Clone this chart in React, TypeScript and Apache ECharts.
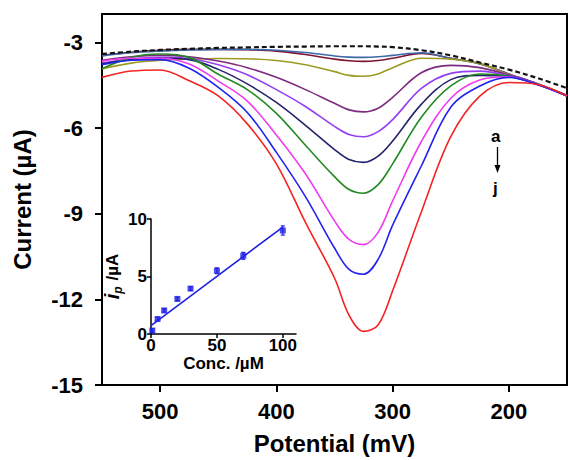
import React, { useEffect, useRef } from 'react';
import * as echarts from 'echarts';

// ---- Data ----
const potentials = [550, 525, 500, 475, 450, 425, 400, 375, 350, 337.5, 325, 312.5, 300, 275, 250, 225, 200, 175, 150];

const blank = [-3.40, -3.32, -3.26, -3.22, -3.19, -3.17, -3.15, -3.14, -3.13, -3.13, -3.13, -3.14, -3.16, -3.27, -3.45, -3.70, -3.95, -4.25, -4.60];
const curveA = [-3.45, -3.34, -3.27, -3.24, -3.24, -3.25, -3.30, -3.42, -3.58, -3.64, -3.66, -3.63, -3.55, -3.38, -3.55, -3.74, -4.10, -4.45, -4.85];
const curveB = [-3.47, -3.36, -3.30, -3.26, -3.24, -3.24, -3.27, -3.35, -3.47, -3.51, -3.52, -3.50, -3.45, -3.36, -3.56, -3.75, -4.11, -4.46, -4.86];
const curveC = [-3.92, -3.72, -3.62, -3.58, -3.56, -3.57, -3.63, -3.78, -4.02, -4.15, -4.18, -4.10, -3.88, -3.55, -3.58, -3.73, -4.13, -4.46, -4.86];
const curveD = [-3.62, -3.50, -3.45, -3.50, -3.65, -3.88, -4.22, -4.65, -5.13, -5.36, -5.43, -5.30, -4.92, -4.05, -3.80, -3.88, -4.14, -4.46, -4.86];
const curveE = [-3.72, -3.58, -3.52, -3.56, -3.78, -4.13, -4.65, -5.24, -5.94, -6.22, -6.30, -6.12, -5.70, -4.60, -4.08, -4.00, -4.16, -4.46, -4.86];
const curveF = [-3.75, -3.60, -3.55, -3.60, -3.94, -4.45, -5.10, -5.90, -6.75, -7.10, -7.20, -6.98, -6.45, -5.15, -4.30, -4.15, -4.18, -4.47, -4.87];
const curveG = [-3.92, -3.52, -3.40, -3.52, -4.11, -4.65, -5.48, -6.60, -7.70, -8.15, -8.28, -7.98, -7.25, -5.60, -4.52, -4.10, -4.18, -4.47, -4.87];
const curveH = [-3.65, -3.55, -3.55, -3.75, -4.35, -5.05, -6.24, -7.60, -9.25, -9.90, -10.08, -9.65, -8.55, -6.45, -4.95, -4.31, -4.20, -4.48, -4.87];
const curveI = [-3.78, -3.62, -3.60, -3.90, -4.57, -5.45, -6.85, -8.40, -10.20, -10.95, -11.12, -10.60, -9.40, -7.30, -5.27, -4.52, -4.22, -4.48, -4.87];
const curveJ = [-4.22, -4.00, -3.96, -4.34, -4.87, -5.85, -7.25, -9.30, -11.25, -12.55, -13.12, -12.90, -11.70, -8.90, -6.30, -4.88, -4.40, -4.47, -4.87];

const curveNames = ['a', 'b', 'c', 'd', 'e', 'f', 'g', 'h', 'i', 'j'];
const curves = [curveA, curveB, curveC, curveD, curveE, curveF, curveG, curveH, curveI, curveJ];
const curveColors = ['#7d1533', '#3d6aa8', '#9c9a22', '#7e2a7e', '#9440f0', '#23236e', '#238a23', '#f03cf0', '#2323ee', '#f52323'];

const xTicks = [500, 400, 300, 200];
const yTicks = [-15, -12, -9, -6, -3];

// inset: calibration plot
const concentration = [1, 5, 10, 20, 30, 50, 70, 100];
const peakCurrent = [0.3, 1.3, 2.05, 3.05, 3.95, 5.5, 6.8, 9.0];
const peakError = [0.15, 0.15, 0.15, 0.15, 0.15, 0.25, 0.3, 0.4];
const fitX = [0, 100];
const fitY = [0.72, 9.3];
const insetXTicks = [0, 50, 100];
const insetYTicks = [0, 5, 10];

const FONT = '"Liberation Sans", Arial, sans-serif';

export default function App() {
  const ref = useRef<HTMLDivElement>(null);

  useEffect(() => {
    document.body.style.margin = '0';
    if (!ref.current) return;
    const chart = echarts.init(ref.current, undefined, { renderer: 'svg' });

    const lineSeries: any[] = curves.map((c, k) => ({
      name: curveNames[k],
      type: 'line',
      xAxisIndex: 0,
      yAxisIndex: 0,
      data: potentials.map((p, i) => [p, c[i]]),
      showSymbol: false,
      smooth: 0.35,
      lineStyle: { color: curveColors[k], width: 1.6 },
      itemStyle: { color: curveColors[k] },
      z: 2 + k * 0.01,
    }));

    lineSeries.push({
      name: 'blank',
      type: 'line',
      xAxisIndex: 0,
      yAxisIndex: 0,
      data: potentials.map((p, i) => [p, blank[i]]),
      showSymbol: false,
      smooth: 0.35,
      lineStyle: { color: '#111', width: 2.2, type: [5, 3] },
      z: 3,
    });

    const insetSeries: any[] = [
      {
        name: 'fit',
        type: 'line',
        xAxisIndex: 1,
        yAxisIndex: 1,
        data: fitX.map((x, i) => [x, fitY[i]]),
        showSymbol: false,
        lineStyle: { color: '#2020e0', width: 1.6 },
        z: 4,
      },
      {
        name: 'points',
        type: 'scatter',
        xAxisIndex: 1,
        yAxisIndex: 1,
        data: concentration.map((x, i) => [x, peakCurrent[i]]),
        symbol: 'rect',
        symbolSize: 6,
        itemStyle: { color: '#1f1fe6' },
        z: 5,
      },
      {
        name: 'error',
        type: 'custom',
        xAxisIndex: 1,
        yAxisIndex: 1,
        data: concentration.map((x, i) => [x, peakCurrent[i] - peakError[i], peakCurrent[i] + peakError[i]]),
        renderItem: (params: any, api: any) => {
          const x = api.value(0);
          const lo = api.coord([x, api.value(1)]);
          const hi = api.coord([x, api.value(2)]);
          const st = { stroke: '#1f1fe6', lineWidth: 1.2 };
          return {
            type: 'group',
            children: [
              { type: 'line', shape: { x1: lo[0], y1: lo[1], x2: hi[0], y2: hi[1] }, style: st },
              { type: 'line', shape: { x1: lo[0] - 2, y1: lo[1], x2: lo[0] + 2, y2: lo[1] }, style: st },
              { type: 'line', shape: { x1: hi[0] - 2, y1: hi[1], x2: hi[0] + 2, y2: hi[1] }, style: st },
            ],
          };
        },
        z: 5,
      },
    ];

    const boldLabel = { color: '#000', fontWeight: 'bold', fontFamily: FONT };

    chart.setOption({
      animation: false,
      backgroundColor: '#fff',
      textStyle: { fontFamily: FONT },
      grid: [
        { left: 102, top: 14, width: 465, height: 374, show: true, borderColor: '#000', borderWidth: 2, backgroundColor: 'transparent' },
        { left: 151, top: 219, width: 145, height: 115, show: false },
      ],
      xAxis: [
        {
          type: 'value',
          gridIndex: 0,
          min: 150,
          max: 550,
          inverse: true,
          name: 'Potential (mV)',
          nameLocation: 'middle',
          nameGap: 46,
          nameTextStyle: { ...boldLabel, fontSize: 24 },
          axisLine: { show: true, onZero: false, lineStyle: { color: '#000', width: 2 } },
          axisTick: { show: true, inside: false, length: 7, customValues: xTicks, lineStyle: { color: '#000', width: 2 } },
          axisLabel: { ...boldLabel, fontSize: 22, margin: 15, customValues: xTicks },
          splitLine: { show: false },
        },
        {
          type: 'value',
          gridIndex: 1,
          min: 0,
          max: 110,
          name: 'Conc. /\u00b5M',
          nameLocation: 'middle',
          nameGap: 21,
          nameTextStyle: { ...boldLabel, fontSize: 17 },
          axisLine: { show: true, onZero: false, lineStyle: { color: '#000', width: 1.5 } },
          axisTick: { show: true, inside: false, length: 4, customValues: insetXTicks, lineStyle: { color: '#000', width: 1.5 } },
          axisLabel: { ...boldLabel, fontSize: 17, margin: 3, customValues: insetXTicks },
          splitLine: { show: false },
        },
      ],
      yAxis: [
        {
          type: 'value',
          gridIndex: 0,
          min: -15,
          max: -2,
          name: 'Current (\u00b5A)',
          nameLocation: 'middle',
          nameGap: 68,
          nameRotate: 90,
          nameTextStyle: { ...boldLabel, fontSize: 24 },
          axisLine: { show: true, onZero: false, lineStyle: { color: '#000', width: 2 } },
          axisTick: { show: true, inside: false, length: 7, customValues: yTicks, lineStyle: { color: '#000', width: 2 } },
          axisLabel: { ...boldLabel, fontSize: 22, margin: 19, customValues: yTicks },
          splitLine: { show: false },
        },
        {
          type: 'value',
          gridIndex: 1,
          min: 0,
          max: 10,
          name: '{i|i}{p|p}{u| /\u00b5A}',
          nameLocation: 'middle',
          nameGap: 14,
          nameRotate: 90,
          nameTextStyle: {
            ...boldLabel,
            fontSize: 17,
            rich: {
              i: { fontSize: 20, fontStyle: 'italic', fontWeight: 'bold', fontFamily: FONT, color: '#000' },
              p: { fontSize: 12, fontStyle: 'italic', fontWeight: 'bold', fontFamily: FONT, color: '#000', verticalAlign: 'bottom', padding: [12, 1, 0, 0] },
              u: { fontSize: 17, fontWeight: 'bold', fontFamily: FONT, color: '#000' },
            },
          },
          axisLine: { show: true, onZero: false, lineStyle: { color: '#000', width: 1.5 } },
          axisTick: { show: true, inside: false, length: 4, customValues: insetYTicks, lineStyle: { color: '#000', width: 1.5 } },
          axisLabel: { ...boldLabel, fontSize: 17, margin: 4, customValues: insetYTicks },
          splitLine: { show: false },
        },
      ],
      graphic: [
        { type: 'text', left: 491, top: 128, style: { text: 'a', fontSize: 17, fontWeight: 'bold', fontFamily: FONT, fill: '#000' } },
        { type: 'line', shape: { x1: 497.5, y1: 147, x2: 497.5, y2: 168 }, style: { stroke: '#000', lineWidth: 1.3 } },
        { type: 'polygon', shape: { points: [[494.5, 165], [500.5, 165], [497.5, 173]] }, style: { fill: '#000' } },
        { type: 'text', left: 493, top: 180, style: { text: 'j', fontSize: 17, fontWeight: 'bold', fontFamily: FONT, fill: '#000' } },
      ],
      series: [...lineSeries, ...insetSeries],
    });

    return () => chart.dispose();
  }, []);

  return <div ref={ref} style={{ width: 570, height: 460 }} />;
}
